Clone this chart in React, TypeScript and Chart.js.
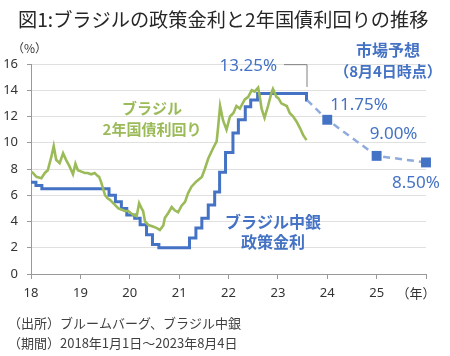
import React, { useEffect, useRef } from "react";
import { Chart, registerables } from "chart.js";

Chart.register(...registerables);

// Brazil 2-year government bond yield (decimal year, %)
const yieldYears = [
  18.0, 18.04, 18.11, 18.21, 18.28, 18.34, 18.41, 18.46, 18.51, 18.58, 18.65, 18.71, 18.78, 18.85, 18.9, 18.95,
  19.02, 19.09, 19.15, 19.22, 19.29, 19.34, 19.38, 19.42, 19.46, 19.5, 19.55, 19.6, 19.64, 19.7, 19.77, 19.84, 19.9, 19.97,
  20.07, 20.14, 20.19, 20.24, 20.27, 20.31, 20.38, 20.48, 20.55, 20.61, 20.68, 20.71, 20.78, 20.85, 20.91, 20.98,
  21.05, 21.12, 21.18, 21.25, 21.35, 21.46, 21.52, 21.59, 21.69, 21.76, 21.79, 21.83, 21.89, 21.96,
  22.03, 22.1, 22.16, 22.23, 22.33, 22.4, 22.47, 22.53, 22.6, 22.63, 22.67, 22.73, 22.8, 22.87, 22.9,
  22.97, 23.01, 23.07, 23.18, 23.24, 23.31, 23.38, 23.45, 23.51, 23.58,
];
const yieldValues = [
  7.8, 7.7, 7.4, 7.3, 7.7, 7.9, 8.9, 9.75, 8.7, 8.45, 9.2, 8.7, 8.2, 7.6, 8.4, 7.9,
  7.8, 7.7, 7.7, 7.6, 7.7, 7.5, 7.4, 7.0, 6.5, 6.0, 5.77, 5.65, 5.5, 5.26, 5.0, 4.9, 4.8, 4.8,
  4.5, 4.4, 5.4, 5.0, 4.8, 4.0, 3.73, 3.6, 3.5, 3.35, 3.7, 4.27, 4.65, 5.1, 4.85, 4.7,
  5.2, 5.5, 6.15, 6.65, 7.05, 7.4, 8.0, 8.8, 9.6, 10.1, 11.2, 12.8, 11.7, 11.0,
  12.0, 12.27, 12.8, 12.6, 13.3, 13.5, 14.0, 13.9, 14.2, 13.6, 12.6, 11.9, 12.8, 13.8, 14.1,
  13.5, 13.4, 13.0, 12.8, 12.27, 12.0, 11.6, 11.1, 10.6, 10.2,
];

// Brazil central bank policy rate (Selic), change dates as decimal years
const policyYears = [
  18.0, 18.1, 18.22, 19.58, 19.71, 19.83, 19.94, 20.1, 20.21, 20.34, 20.46, 20.59,
  21.21, 21.34, 21.46, 21.59, 21.72, 21.82, 21.94, 22.09, 22.2, 22.34, 22.45, 22.59, 23.58, 23.59,
];
const policyValues = [
  7.0, 6.75, 6.5, 6.0, 5.5, 5.0, 4.5, 4.25, 3.75, 3.0, 2.25, 2.0,
  2.75, 3.5, 4.25, 5.25, 6.25, 7.75, 9.25, 10.75, 11.75, 12.75, 13.25, 13.75, 13.25, 13.25,
];

// Market expectations (as of Aug 4)
const forecastYears = [23.59, 24, 25, 26];
const forecastValues = [13.25, 11.75, 9.0, 8.5];
const forecastLabels = ["13.25%", "11.75%", "9.00%", "8.50%"];

const xTickValues = [18, 19, 20, 21, 22, 23, 24, 25, 26];
const yTickValues = [0, 2, 4, 6, 8, 10, 12, 14, 16];

const BLUE = "#4472C4";
const BLUE_LIGHT = "#8FAADC";
const GREEN = "#9BBB59";
const JP = '"Noto Sans CJK JP", "Noto Sans", sans-serif';
const NUM = '"Noto Sans", "Liberation Sans", sans-serif';

const toXY = (xs: number[], ys: number[]) => xs.map((x, i) => ({ x, y: ys[i] }));

const textPlugin = {
  id: "texts",
  afterDraw(chart: any) {
    const { ctx } = chart;
    const xs = chart.scales.x;
    const ys = chart.scales.y;
    const X = (v: number) => xs.getPixelForValue(v);
    const Y = (v: number) => ys.getPixelForValue(v);
    const t = (s: string, x: number, y: number, font: string, color: string, align: CanvasTextAlign = "center") => {
      ctx.save();
      ctx.font = font;
      ctx.fillStyle = color;
      ctx.textAlign = align;
      ctx.textBaseline = "middle";
      ctx.fillText(s, x, y);
      ctx.restore();
    };
    // title
    t("図1:ブラジルの政策金利と2年国債利回りの推移", 18, 20, `19.2px ${JP}`, "#262626", "left");
    t("（%）", 12, 48, `12px ${JP}`, "#333", "left");
    t("（年）", X(26) - 10, 293, `13px ${JP}`, "#333");
    // footnotes
    t("（出所）ブルームバーグ、ブラジル中銀", 8, 323, `13px ${JP}`, "#404040", "left");
    t("（期間）2018年1月1日～2023年8月4日", 8, 343, `13px ${JP}`, "#404040", "left");

    // leader line for current rate label
    const lx = X(forecastYears[0]);
    ctx.save();
    ctx.strokeStyle = "#7f7f7f";
    ctx.lineWidth = 1;
    ctx.beginPath();
    ctx.moveTo(lx - 23, Y(15.95));
    ctx.lineTo(lx, Y(15.95));
    ctx.lineTo(lx, Y(14.25));
    ctx.stroke();
    ctx.restore();
    t(forecastLabels[0], lx - 30, Y(15.85), `17px ${NUM}`, BLUE, "right");

    t("市場予想", X(25.23), Y(17.07), `bold 16px ${JP}`, BLUE);
    t("（8月4日時点）", X(25.23), Y(15.47), `bold 15px ${JP}`, BLUE);

    t(forecastLabels[1], X(forecastYears[1]) + 3, Y(12.9), `17px ${NUM}`, BLUE, "left");
    t(forecastLabels[2], X(forecastYears[2]) - 7, Y(10.67), `17px ${NUM}`, BLUE, "left");
    t(forecastLabels[3], X(forecastYears[3]) - 34, Y(6.93), `17px ${NUM}`, BLUE, "left");

    t("ブラジル中銀", X(22.9), Y(3.96), `bold 16px ${JP}`, BLUE);
    t("政策金利", X(22.9), Y(2.44), `bold 16px ${JP}`, BLUE);

    t("ブラジル", X(20.45), Y(12.65), `bold 15px ${JP}`, GREEN);
    t("2年国債利回り", X(20.45), Y(11.05), `bold 15px ${JP}`, GREEN);
  },
};

export default function App() {
  const ref = useRef<HTMLCanvasElement>(null);
  useEffect(() => {
    if (!ref.current) return;
    const chart = new Chart(ref.current, {
      type: "line",
      data: {
        datasets: [
          {
            data: toXY(yieldYears, yieldValues),
            borderColor: GREEN,
            borderWidth: 2.6,
            pointRadius: 0,
            tension: 0,
            order: 0,
          },
          {
            data: toXY(policyYears, policyValues),
            borderColor: BLUE,
            borderWidth: 3,
            pointRadius: 0,
            stepped: true,
            order: 1,
          },
          {
            data: toXY(forecastYears, forecastValues),
            borderColor: BLUE_LIGHT,
            borderWidth: 2.5,
            borderDash: [7, 5],
            pointStyle: "rect",
            pointRadius: [0, 7, 7, 7],
            pointBackgroundColor: BLUE,
            pointBorderColor: BLUE,
            pointBorderWidth: 0,
            clip: false,
            order: 2,
          } as any,
        ],
      },
      options: {
        animation: false,
        responsive: false,
        maintainAspectRatio: false,
        layout: { padding: { left: 0, right: 24, top: 64, bottom: 0 } },
        plugins: { legend: { display: false }, tooltip: { enabled: false }, title: { display: false } },
        scales: {
          x: {
            type: "linear",
            min: 18,
            max: 26,
            afterFit: (s: any) => {
              s.height = 82;
            },
            afterBuildTicks: (s: any) => {
              s.ticks = xTickValues.map((v) => ({ value: v }));
            },
            ticks: {
              autoSkip: false,
              maxRotation: 0,
              padding: 6,
              color: "#333",
              font: { family: NUM, size: 13 },
              callback: (v: any) => (v === 26 ? "" : String(v)),
            },
            grid: { drawOnChartArea: false, drawTicks: true, tickLength: 5, tickColor: "#999" },
            border: { display: true, color: "#999", width: 1 },
          },
          y: {
            type: "linear",
            min: 0,
            max: 16,
            afterFit: (s: any) => {
              s.width = 31;
            },
            afterBuildTicks: (s: any) => {
              s.ticks = yTickValues.map((v) => ({ value: v }));
            },
            ticks: {
              padding: 9,
              color: "#333",
              font: { family: NUM, size: 13 },
            },
            grid: { color: "#e0e0e0", lineWidth: 1, drawTicks: true, tickLength: 4, tickColor: "#999" },
            border: { display: true, color: "#999", width: 1 },
          },
        },
      },
      plugins: [textPlugin],
    });
    return () => chart.destroy();
  }, []);
  return (
    <div style={{ position: "fixed", left: 0, top: 0, width: 450, height: 356, background: "#fff" }}>
      <canvas ref={ref} width={450} height={356} style={{ width: 450, height: 356 }} />
    </div>
  );
}
